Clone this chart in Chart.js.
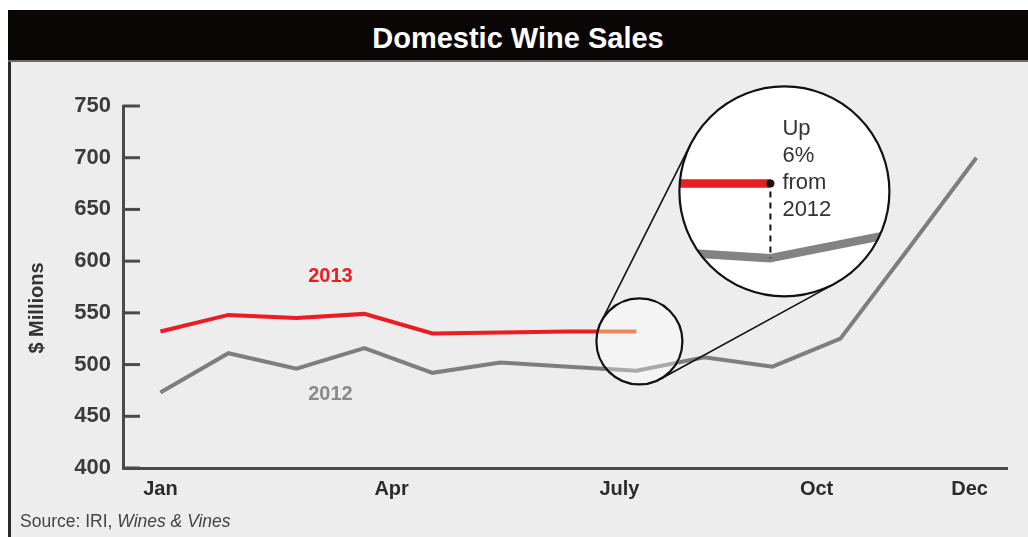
<!DOCTYPE html>
<html>
<head>
<meta charset="utf-8">
<title>Domestic Wine Sales</title>
<script src="https://cdn.jsdelivr.net/npm/chart.js@4.4.0/dist/chart.umd.min.js"></script>
<style>
  body { margin: 0; width: 1028px; height: 537px; overflow: hidden; position: relative; background: #fff; }
  #panel { position: absolute; left: 8px; top: 10px; right: 0; bottom: 0; background: #ecedec; border-left: 3px solid #2a2a2a; }
  #title { position: absolute; left: 8px; top: 10px; right: 0; height: 50px; background: #0a0606;
           border-bottom: 2px solid #6a6a6a; }
  #title span { position: absolute; left: 0; right: 0; top: 14px; text-align: center; color: #fff;
           font: bold 29px "Liberation Sans", Arial, sans-serif; line-height: 29px; }
  #wrap { position: absolute; left: 0; top: 0; width: 1028px; height: 537px; }
  #source { position: absolute; left: 20px; top: 511px; color: #444;
            font: 17.5px "Liberation Sans", Arial, sans-serif; }
</style>
</head>
<body>
<div id="panel"></div>
<div id="title"><span>Domestic Wine Sales</span></div>
<div id="wrap"><canvas id="chart"></canvas></div>
<div id="source">Source: IRI, <i>Wines &amp; Vines</i></div>
<script>
// 13 four-week periods per year
const periods = [1, 2, 3, 4, 5, 6, 7, 8, 9, 10, 11, 12, 13];
const sales2012 = [473, 511, 496, 516, 492, 502, 498, 494, 507, 498, 525, 612, 700];
const sales2013 = [532, 548, 545, 549, 530, 531, 532, 532];
const monthTickAt = [0, 3.4, 6.75, 9.65, 11.9];
const monthLabels = ['Jan', 'Apr', 'July', 'Oct', 'Dec'];

const RED = '#ec1c24';
const GRAY = '#7e7e80';

function tracePath(ctx, chart, i) {
    const pts = chart.getDatasetMeta(i).data;
    ctx.beginPath();
    pts.forEach((p, j) => j ? ctx.lineTo(p.x, p.y) : ctx.moveTo(p.x, p.y));
}

function outerTangents(c1, c2) {
    const dx = c2.x - c1.x, dy = c2.y - c1.y;
    const d = Math.hypot(dx, dy);
    const th = Math.atan2(dy, dx);
    const al = Math.acos((c1.r - c2.r) / d);
    return [th + al, th - al].map(t => [
        c1.x + c1.r * Math.cos(t), c1.y + c1.r * Math.sin(t),
        c2.x + c2.r * Math.cos(t), c2.y + c2.r * Math.sin(t)
    ]);
}

const extras = {
    id: 'extras',
    afterDraw(chart) {
        const ctx = chart.ctx;
        const xs = chart.scales.x, ys = chart.scales.y;
        const area = chart.chartArea;

        // inward tick marks on the y axis
        ctx.save();
        ctx.strokeStyle = '#4a4a4a';
        ctx.lineWidth = 3;
        ys.ticks.forEach(t => {
            const y = ys.getPixelForValue(t.value);
            ctx.beginPath();
            ctx.moveTo(area.left, y);
            ctx.lineTo(area.left + 17, y);
            ctx.stroke();
        });

        // axis title
        ctx.translate(37, 308);
        ctx.rotate(-Math.PI / 2);
        ctx.fillStyle = '#333';
        ctx.font = 'bold 20px "Liberation Sans", Arial, sans-serif';
        ctx.textAlign = 'center';
        ctx.textBaseline = 'middle';
        ctx.fillText('$ Millions', 0, 0);
        ctx.restore();

        // series labels
        ctx.save();
        ctx.font = 'bold 20px "Liberation Sans", Arial, sans-serif';
        ctx.textAlign = 'center';
        ctx.textBaseline = 'middle';
        ctx.fillStyle = RED;
        ctx.fillText('2013', xs.getPixelForValue(2.5), ys.getPixelForValue(585));
        ctx.fillStyle = '#8a8a8c';
        ctx.fillText('2012', xs.getPixelForValue(2.5), ys.getPixelForValue(471.5));
        ctx.restore();

        // magnifier
        const a = chart.getDatasetMeta(1).data[sales2013.length - 1];
        const g = chart.getDatasetMeta(0).data[sales2013.length - 1];
        const small = { x: a.x + 3, y: a.y + 10, r: 43 };
        const big = { x: a.x + 148, y: a.y - 140, r: 105 };
        const k = 1.9, bx = a.x + 134, by = a.y - 148;

        ctx.save();
        ctx.beginPath();
        ctx.arc(small.x, small.y, small.r, 0, 2 * Math.PI);
        ctx.fillStyle = '#f4f4f4';
        ctx.fill();
        ctx.clip();
        ctx.lineWidth = 4;
        ctx.lineJoin = 'round';
        tracePath(ctx, chart, 0); ctx.strokeStyle = '#a9a9ab'; ctx.stroke();
        tracePath(ctx, chart, 1); ctx.strokeStyle = '#f4845f'; ctx.stroke();
        ctx.restore();

        ctx.save();
        ctx.strokeStyle = '#111';
        ctx.lineWidth = 1.6;
        outerTangents(small, big).forEach(l => {
            ctx.beginPath();
            ctx.moveTo(l[0], l[1]);
            ctx.lineTo(l[2], l[3]);
            ctx.stroke();
        });
        ctx.lineWidth = 2.2;
        ctx.beginPath();
        ctx.arc(small.x, small.y, small.r, 0, 2 * Math.PI);
        ctx.stroke();
        ctx.restore();

        ctx.save();
        ctx.beginPath();
        ctx.arc(big.x, big.y, big.r, 0, 2 * Math.PI);
        ctx.fillStyle = '#fff';
        ctx.fill();
        ctx.clip();
        ctx.translate(bx, by);
        ctx.scale(k, k);
        ctx.translate(-a.x, -a.y);
        ctx.lineWidth = 4.5;
        ctx.lineJoin = 'round';
        tracePath(ctx, chart, 0); ctx.strokeStyle = '#838385'; ctx.stroke();
        tracePath(ctx, chart, 1); ctx.strokeStyle = RED; ctx.stroke();
        ctx.restore();

        ctx.save();
        const gy = by + k * (g.y - a.y);
        ctx.strokeStyle = '#111';
        ctx.lineWidth = 2;
        ctx.setLineDash([6, 5]);
        ctx.beginPath();
        ctx.moveTo(bx, by + 8);
        ctx.lineTo(bx, gy);
        ctx.stroke();
        ctx.setLineDash([]);
        ctx.fillStyle = '#111';
        ctx.beginPath();
        ctx.arc(bx, by, 4, 0, 2 * Math.PI);
        ctx.fill();
        ctx.lineWidth = 2.2;
        ctx.beginPath();
        ctx.arc(big.x, big.y, big.r, 0, 2 * Math.PI);
        ctx.stroke();

        ctx.fillStyle = '#333';
        ctx.font = '22px "Liberation Sans", Arial, sans-serif';
        ctx.textBaseline = 'alphabetic';
        ['Up', '6%', 'from', '2012'].forEach((s, i) => ctx.fillText(s, big.x - 2, big.y - 56 + i * 27));
        ctx.restore();
    }
};

new Chart(document.getElementById('chart'), {
    type: 'line',
    data: {
        datasets: [
            {
                label: '2012',
                data: sales2012.map((v, i) => ({ x: i, y: v })),
                borderColor: GRAY,
                borderWidth: 4,
                pointRadius: 0,
                tension: 0
            },
            {
                label: '2013',
                data: sales2013.map((v, i) => ({ x: i, y: v })),
                borderColor: RED,
                borderWidth: 4,
                pointRadius: 0,
                tension: 0
            }
        ]
    },
    options: {
        responsive: true,
        maintainAspectRatio: false,
        animation: false,
        layout: { padding: { top: 106, right: 21, bottom: 0, left: 0 } },
        plugins: { legend: { display: false }, tooltip: { enabled: false } },
        scales: {
            x: {
                type: 'linear',
                min: -0.55,
                max: 12.45,
                afterFit: s => { s.height = 69; },
                afterBuildTicks: s => { s.ticks = monthTickAt.map(v => ({ value: v })); },
                grid: { display: false, drawTicks: false },
                border: { display: true, color: '#4a4a4a', width: 3 },
                ticks: {
                    autoSkip: false,
                    maxRotation: 0,
                    padding: 9,
                    color: '#2b2b2b',
                    font: { family: '"Liberation Sans", Arial, sans-serif', size: 20, weight: 'bold' },
                    callback: (v, i) => monthLabels[i]
                }
            },
            y: {
                min: 400,
                max: 750,
                afterFit: s => { s.width = 123; },
                grid: { display: false, drawTicks: false },
                border: { display: true, color: '#4a4a4a', width: 3 },
                ticks: {
                    stepSize: 50,
                    padding: 12,
                    color: '#3b3b3b',
                    font: { family: '"Liberation Sans", Arial, sans-serif', size: 22, weight: 'bold' }
                }
            }
        }
    },
    plugins: [extras]
});
</script>
</body>
</html>
